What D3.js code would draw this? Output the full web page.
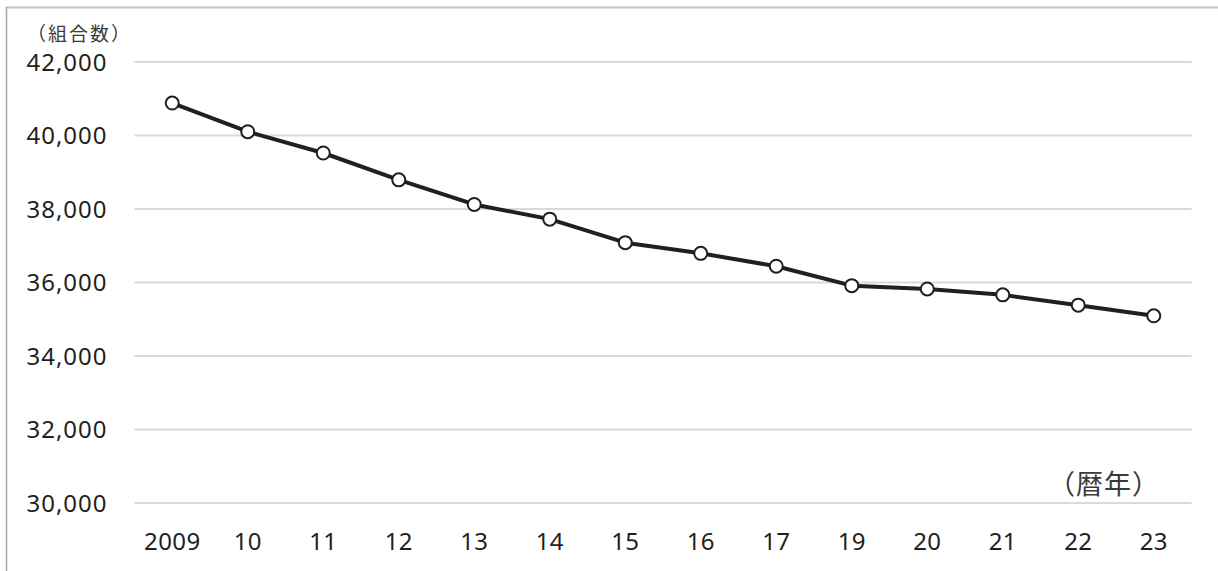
<!DOCTYPE html>
<html><head><meta charset="utf-8">
<script src="https://cdn.jsdelivr.net/npm/d3@7/dist/d3.min.js"></script>
<style>body{margin:0;background:#fff}svg{display:block}</style>
</head><body>
<svg id="c" width="1218" height="571"></svg>
<script>
const categories = ["2009","10","11","12","13","14","15","16","17","19","20","21","22","23"];
const values = [40870,40090,39510,38780,38110,37710,37070,36780,36430,35900,35810,35650,35370,35080];
const yTicks = [30000,32000,34000,36000,38000,40000,42000];
const yUnit = "（組合数）";
const xUnit = "（暦年）";

(function(){
const svg = d3.select("#c");
const numFont = "'Noto Sans','Open Sans',sans-serif";
const jpFont = "'Noto Sans CJK JP',sans-serif";
const pL = 134.5, pR = 1191.5, pT = 61.5, pB = 502.5;

const x = d3.scaleBand().domain(categories).range([pL, pR]);
const y = d3.scaleLinear().domain([30000, 42000]).range([pB, pT]);

// outer frame (top + left)
svg.append("line").attr("x1",6).attr("x2",1218).attr("y1",7.5).attr("y2",7.5).attr("stroke","#c4c4c4").attr("stroke-width",2);
svg.append("line").attr("x1",6.5).attr("x2",6.5).attr("y1",7).attr("y2",571).attr("stroke","#a6a6a6").attr("stroke-width",1.5);

// gridlines
const yAxis = d3.axisLeft(y).tickValues(yTicks).tickSize(-(pR-pL)).tickFormat(d3.format(","));
const ga = svg.append("g").attr("transform",`translate(${pL},0)`).call(yAxis);
ga.select(".domain").remove();
ga.selectAll(".tick line").attr("stroke","#d9d9d9").attr("stroke-width",2);
ga.selectAll(".tick text").attr("x",-27).attr("dy","0.36em")
  .attr("font-family",numFont).attr("font-size",24).attr("letter-spacing","1px").attr("fill","#231f20");

// x axis labels
const xAxis = d3.axisBottom(x).tickSize(0);
const gx = svg.append("g").attr("transform",`translate(0,${pB})`).call(xAxis);
gx.select(".domain").remove();
gx.selectAll(".tick text").attr("y",39).attr("dy","0.36em")
  .attr("font-family",numFont).attr("font-size",24).attr("letter-spacing","0.4px").attr("fill","#231f20");

// line
const cx = d => x(d) + x.bandwidth()/2;
const data = categories.map((c,i)=>({c, v: values[i]}));
svg.append("path").datum(data)
  .attr("d", d3.line().x(d=>cx(d.c)).y(d=>y(d.v)))
  .attr("fill","none").attr("stroke","#231f20").attr("stroke-width",4).attr("stroke-linejoin","round");
svg.selectAll("circle.p").data(data).join("circle").attr("class","p")
  .attr("cx",d=>cx(d.c)).attr("cy",d=>y(d.v)).attr("r",6.5)
  .attr("fill","#fff").attr("stroke","#231f20").attr("stroke-width",2);

// unit labels
svg.append("text").attr("x",27).attr("y",41).text(yUnit)
  .attr("font-family",jpFont).attr("font-size",19).attr("letter-spacing","2px").attr("fill","#3a3a3a");
svg.append("text").attr("x",1048).attr("y",494).text(xUnit)
  .attr("font-family",jpFont).attr("font-size",27).attr("letter-spacing","1px").attr("fill","#3a3a3a");
})();
</script>
</body></html>
